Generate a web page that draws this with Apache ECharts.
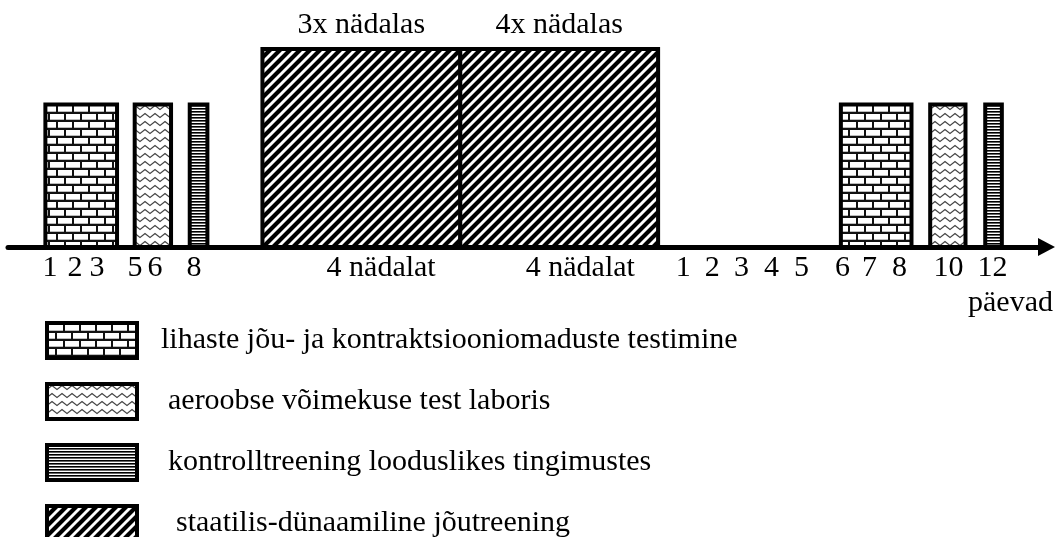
<!DOCTYPE html>
<html>
<head>
<meta charset="utf-8">
<script src="https://cdn.jsdelivr.net/npm/echarts@6/dist/echarts.min.js"></script>
<style>
  html, body { margin: 0; padding: 0; background: #fff; }
  #chart { width: 1055px; height: 537px; }
</style>
</head>
<body>
<div id="chart"></div>
<script>
// timeline positions are schematic (0..100 along the arrow), heights relative (tall box = 100)
const brickBoxes = [[3.6, 10.5, 72], [80.2, 87.0, 72]];
const waveBoxes = [[12.2, 15.7, 72], [88.8, 92.2, 72]];
const lineBoxes = [[17.5, 19.2, 72], [94.1, 95.7, 72]];
const hatchBoxes = [[24.5, 43.55, 100], [43.55, 62.6, 100]];
const hatchNotes = ['3x nädalas', '4x nädalas'];

const dayTickPos = [4.05, 6.45, 8.57, 12.24, 14.16, 17.92, 35.93, 55.11,
  65.03, 67.82, 70.62, 73.51, 76.40, 80.35, 82.95, 85.84, 90.56, 94.80];
const dayTickLabels = ['1', '2', '3', '5', '6', '8', '4 nädalat', '4 nädalat',
  '1', '2', '3', '4', '5', '6', '7', '8', '10', '12'];
const axisUnit = 'päevad';

const seriesNames = [
  'lihaste jõu- ja kontraktsiooniomaduste testimine',
  'aeroobse võimekuse test laboris',
  'kontrolltreening looduslikes tingimustes',
  'staatilis-dünaamiline jõutreening'
];

const FONT = '30px "Liberation Serif"';

function tile(w, h, draw) {
  const c = document.createElement('canvas');
  c.width = w;
  c.height = h;
  draw(c.getContext('2d'));
  return { image: c, repeat: 'repeat' };
}

// brick wall
const brickFill = tile(16, 16, function (ctx) {
  ctx.fillStyle = '#111';
  ctx.fillRect(0, 0, 16, 16);
  ctx.fillStyle = '#fff';
  ctx.fillRect(2, 2, 14, 5);
  ctx.fillRect(10, 10, 6, 5);
  ctx.fillRect(0, 10, 8, 5);
  ctx.fillStyle = '#bbb';
  ctx.fillRect(2, 7, 14, 1);
  ctx.fillRect(10, 15, 6, 1);
  ctx.fillRect(0, 15, 8, 1);
});

// zigzag waves
const waveFill = tile(10, 8, function (ctx) {
  ctx.fillStyle = '#fff';
  ctx.fillRect(0, 0, 10, 8);
  ctx.strokeStyle = '#444';
  ctx.lineWidth = 1.3;
  ctx.beginPath();
  ctx.moveTo(-5, 1.5);
  ctx.lineTo(0, 5.5);
  ctx.lineTo(5, 1.5);
  ctx.lineTo(10, 5.5);
  ctx.lineTo(15, 1.5);
  ctx.stroke();
});

// dense horizontal lines
const lineFill = tile(4, 3, function (ctx) {
  ctx.fillStyle = '#fff';
  ctx.fillRect(0, 0, 4, 3);
  ctx.fillStyle = '#000';
  ctx.fillRect(0, 0, 4, 1);
  ctx.fillStyle = '#666';
  ctx.fillRect(0, 1, 4, 1);
});

// diagonal hatch
const hatchFill = tile(10, 10, function (ctx) {
  ctx.fillStyle = '#fff';
  ctx.fillRect(0, 0, 10, 10);
  ctx.strokeStyle = '#000';
  ctx.lineWidth = 4.2;
  ctx.beginPath();
  for (let k = -1; k <= 1; k++) {
    ctx.moveTo(k * 10 - 2, 12);
    ctx.lineTo(k * 10 + 12, -2);
  }
  ctx.stroke();
});

const fills = [brickFill, waveFill, lineFill, hatchFill];
const boxSets = [brickBoxes, waveBoxes, lineBoxes, hatchBoxes];

function makeRender(fill, notes) {
  return function (params, api) {
    const p0 = api.coord([api.value(0), 0]);
    const p1 = api.coord([api.value(1), api.value(2)]);
    const children = [{
      type: 'rect',
      shape: { x: p0[0], y: p1[1], width: p1[0] - p0[0], height: p0[1] - p1[1] },
      style: { fill: fill, stroke: '#000', lineWidth: 4, lineJoin: 'miter' }
    }];
    if (notes) {
      children.push({
        type: 'text',
        x: (p0[0] + p1[0]) / 2,
        y: p1[1] - 24,
        style: { text: notes[params.dataIndex], font: FONT, fill: '#000', align: 'center', verticalAlign: 'middle' }
      });
    }
    return { type: 'group', children: children };
  };
}

const series = seriesNames.map(function (name, i) {
  return {
    name: name,
    type: 'custom',
    renderItem: makeRender(fills[i], i === 3 ? hatchNotes : null),
    itemStyle: { color: fills[i], borderColor: '#000', borderWidth: 4 },
    encode: { x: [0, 1], y: 2 },
    data: boxSets[i],
    z: 3
  };
});

const legendPad = [19, 26, 26, 34];

const chart = echarts.init(document.getElementById('chart'));
chart.setOption({
  animation: false,
  backgroundColor: '#fff',
  grid: { left: 8, right: 8.5, top: 49, bottom: 290 },
  xAxis: {
    type: 'value',
    min: 0,
    max: 100,
    splitLine: { show: false },
    axisTick: { show: false },
    axisLine: {
      show: true,
      symbol: ['none', 'triangle'],
      symbolSize: [18, 17],
      lineStyle: { color: '#000', width: 5 }
    },
    axisLabel: {
      customValues: dayTickPos,
      margin: 6,
      color: '#000',
      fontFamily: 'Liberation Serif',
      fontSize: 30,
      formatter: function (v) {
        let best = 0;
        dayTickPos.forEach(function (p, i) {
          if (Math.abs(p - v) < Math.abs(dayTickPos[best] - v)) best = i;
        });
        return dayTickLabels[best];
      }
    }
  },
  yAxis: { type: 'value', min: 0, max: 100, show: false },
  legend: {
    orient: 'vertical',
    left: 45,
    top: 321,
    height: 400,
    padding: 0,
    itemWidth: 90,
    itemHeight: 35,
    itemGap: 22,
    icon: 'rect',
    selectedMode: false,
    textStyle: { color: '#000', fontFamily: 'Liberation Serif', fontSize: 30, lineHeight: 30 },
    data: seriesNames.map(function (name, i) {
      return {
        name: name,
        itemStyle: { color: fills[i], borderColor: '#000', borderWidth: 4 },
        textStyle: { padding: [0, 0, 0, legendPad[i]] }
      };
    })
  },
  graphic: [{
    type: 'text',
    right: 2,
    top: 288,
    style: { text: axisUnit, font: FONT, fill: '#000' }
  }],
  series: series
});
</script>
</body>
</html>
